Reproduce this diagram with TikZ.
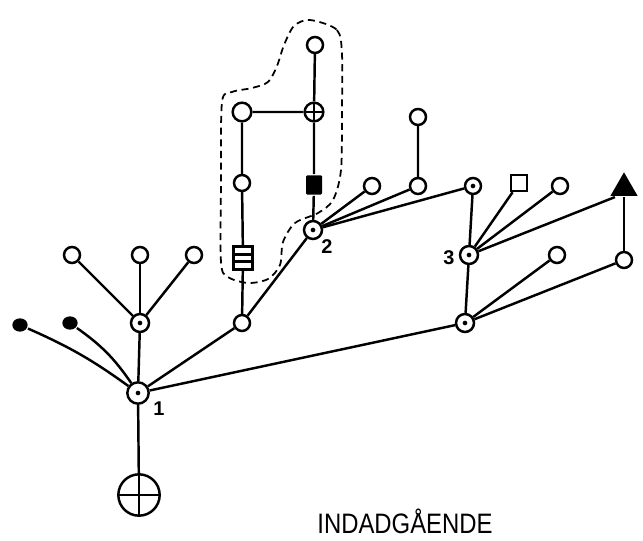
\documentclass[tikz,border=0pt]{standalone}
\usepackage{fontspec}
\setmainfont{Liberation Sans}
\usetikzlibrary{shapes.geometric}

\begin{document}
\begin{tikzpicture}[
  x=0.03cm, y=-0.03cm,
  line width=2.1pt,
  leaf/.style={circle, draw, minimum size=4.8mm, inner sep=0pt},
  hub/.style={circle, draw, minimum size=5.4mm, inner sep=0pt,
    path picture={\fill (path picture bounding box.center) circle (2pt);}},
  crossed/.style={circle, draw, minimum size=5.6mm, inner sep=0pt,
    path picture={\draw (path picture bounding box.north) -- (path picture bounding box.south)
      (path picture bounding box.west) -- (path picture bounding box.east);}},
  blob/.style={ellipse, fill, minimum width=4.6mm, minimum height=4mm, inner sep=0pt},
  solidbox/.style={rectangle, fill, rounded corners=1pt, minimum width=4.8mm, minimum height=5.8mm, inner sep=0pt},
  openbox/.style={rectangle, draw, minimum size=4.8mm, inner sep=0pt},
  barbox/.style={rectangle, draw, minimum width=5.8mm, minimum height=7mm, inner sep=0pt,
    path picture={\draw ([xshift=1pt,yshift=-2.4mm]path picture bounding box.north west) -- ([xshift=-1pt,yshift=-2.4mm]path picture bounding box.north east)
      ([xshift=1pt,yshift=2.4mm]path picture bounding box.south west) -- ([xshift=-1pt,yshift=2.4mm]path picture bounding box.south east);}},
  tip/.style={regular polygon, regular polygon sides=3, fill, minimum size=9.4mm, inner sep=0pt},
  edge/.style={draw, line width=2.1pt},
  outline/.style={draw, line width=1.5pt, dash pattern=on 6pt off 4pt},
  numlabel/.style={font=\bfseries\fontsize{17}{19}\selectfont, inner sep=0pt},
  caption/.style={font=\fontsize{24}{28}\selectfont, inner sep=0pt}
]
  \useasboundingbox (0,0) rectangle (643,541);

  % Root and its left branch
  \node[hub, minimum size=6.4mm] (n1) at (138,393) {};
  \node[crossed, minimum size=12.4mm] (root) at (139,495) {};
  \node[blob] (f1) at (20,325) {};
  \node[blob] (f2) at (70,323) {};
  \node[hub] (h1) at (140,323) {};
  \node[leaf] (l1) at (72,255) {};
  \node[leaf] (l2) at (140,255) {};
  \node[leaf] (l3) at (194,255) {};
  \draw[edge] (n1) -- (root);
  \draw[edge] (f1) to[bend left=6] (n1);
  \draw[edge] (f2) to[bend left=10] (n1);
  \draw[edge] (n1) -- (h1);
  \draw[edge] (h1) -- (l1);
  \draw[edge] (h1) -- (l2);
  \draw[edge] (h1) -- (l3);

  % Enclosed column
  \node[leaf] (c1) at (242,323) {};
  \node[barbox] (sb) at (243,258) {};
  \node[leaf] (c2) at (242,183) {};
  \node[leaf, minimum width=5.6mm] (c3) at (242,112) {};
  \node[crossed] (x2) at (314,112) {};
  \node[leaf] (c4) at (315,45) {};
  \node[solidbox] (fs) at (314,185) {};
  \node[hub] (n2) at (313,230) {};
  \draw[edge] (n1) -- (c1);
  \draw[edge] (c1) -- (sb) -- (c2) -- (c3) -- (x2) -- (c4);
  \draw[edge] (x2) -- (fs) -- (n2);
  \draw[edge] (c1) -- (n2);

  % Branches of node 2
  \node[leaf] (c5) at (372,186) {};
  \node[leaf] (c6) at (418,186) {};
  \node[leaf] (c7) at (418,117) {};
  \node[hub, minimum size=4.8mm] (h3) at (473,186) {};
  \draw[edge] (n2) -- (c5);
  \draw[edge] (n2) -- (c6) -- (c7);
  \draw[edge] (n2) -- (h3);

  % Node 3 and the right branch
  \node[hub] (n3) at (469,255) {};
  \node[openbox] (sq) at (519,183) {};
  \node[leaf] (c8) at (560,186) {};
  \node[tip] (tri) at (624,188) {};
  \node[hub] (h4) at (465,323) {};
  \node[leaf] (c10) at (557,255) {};
  \node[leaf] (c9) at (624,260) {};
  \draw[edge] (h3) -- (n3);
  \draw[edge] (n3) -- (sq);
  \draw[edge] (n3) -- (c8);
  \draw[edge] (n3) -- (tri.south west);
  \draw[edge] (n3) -- (h4);
  \draw[edge] (n1) -- (h4);
  \draw[edge] (h4) -- (c10);
  \draw[edge] (h4) -- (c9);
  \draw[edge] (c9) -- (tri);

  % Dashed boundary
  \draw[outline] plot[smooth cycle] coordinates {(310,20) (337,30) (342,55) (342,110) (341,170) (333,200) (318,213) (295,223) (283,242) (280,265) (268,279) (248,283) (228,277) (221,262) (221,180) (222,102) (232,92) (252,88) (268,82) (277,66) (284,45) (294,26)};

  % Labels
  \node[numlabel] (lab1) at (159,409) {1};
  \node[numlabel] (lab2) at (327,247) {2};
  \node[numlabel] (lab3) at (449,258) {3};
  \node[caption] (title) at (405,521) {\scalebox{0.85}[1]{INDADGÅENDE}};
\end{tikzpicture}
\end{document}
